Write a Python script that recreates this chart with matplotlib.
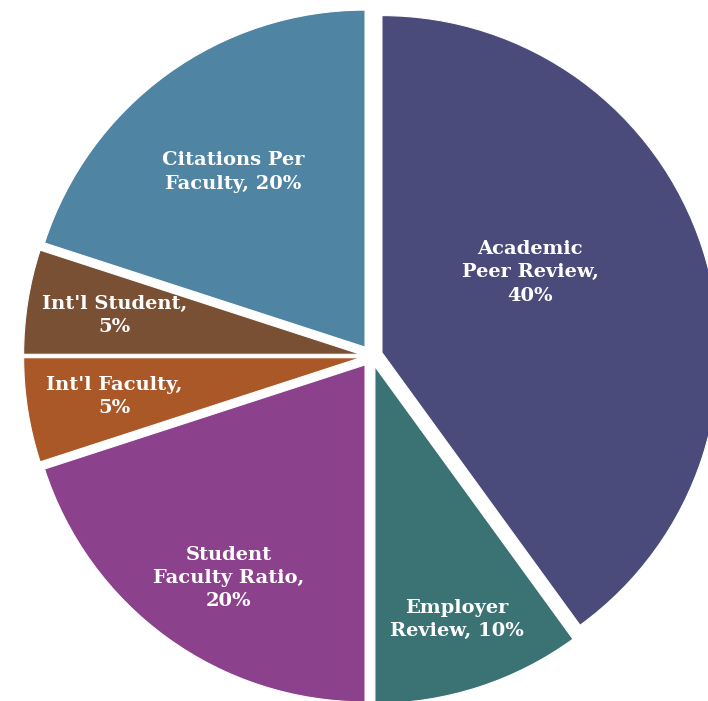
import numpy as np
import matplotlib
matplotlib.use("Agg")
import matplotlib.pyplot as plt

# Ranking methodology weights
categories = ["Academic Peer Review", "Employer Review", "Student Faculty Ratio",
              "Int'l Faculty", "Int'l Student", "Citations Per Faculty"]
weights = [40, 10, 20, 5, 5, 20]
colors = ["#4B4B7B", "#3B7274", "#8C418C", "#AB5828", "#7A5034", "#5084A3"]
label_text = [
    "Academic\nPeer Review,\n{}%",
    "Employer\nReview, {}%",
    "Student\nFaculty Ratio,\n{}%",
    "Int'l Faculty,\n{}%",
    "Int'l Student,\n{}%",
    "Citations Per\nFaculty, {}%",
]

# label placement inside each wedge: (radial fraction, angular shift in degrees)
label_place = [(0.50, 10.5), (0.79, 0.0), (0.75, 3.4), (0.74, 0.0), (0.74, 0.0), (0.65, 1.0)]

W, H = 708, 701
fig = plt.figure(figsize=(W / 100, H / 100), dpi=100)
ax = fig.add_axes([0, 0, 1, 1])

center = (371.5, H - 356)
radius = 337
gap = 11

wedges, _ = ax.pie(weights, colors=colors, startangle=90, counterclock=False,
                   explode=[gap] * len(weights), center=center, radius=radius,
                   wedgeprops=dict(edgecolor="white", linewidth=0.8))

ax.set_xlim(0, W)
ax.set_ylim(0, H)
ax.set_aspect("equal")
ax.axis("off")

for w, txt, val, (frac, shift) in zip(wedges, label_text, weights, label_place):
    mid = np.deg2rad((w.theta1 + w.theta2) / 2 + shift)
    cx, cy = w.center
    x = cx + frac * radius * np.cos(mid)
    y = cy + frac * radius * np.sin(mid)
    ax.text(x, y, txt.format(val), ha="center", va="center", color="white",
            fontsize=14, fontweight="bold", family="DejaVu Serif",
            linespacing=1.38)

fig.savefig("out.png", dpi=100)
